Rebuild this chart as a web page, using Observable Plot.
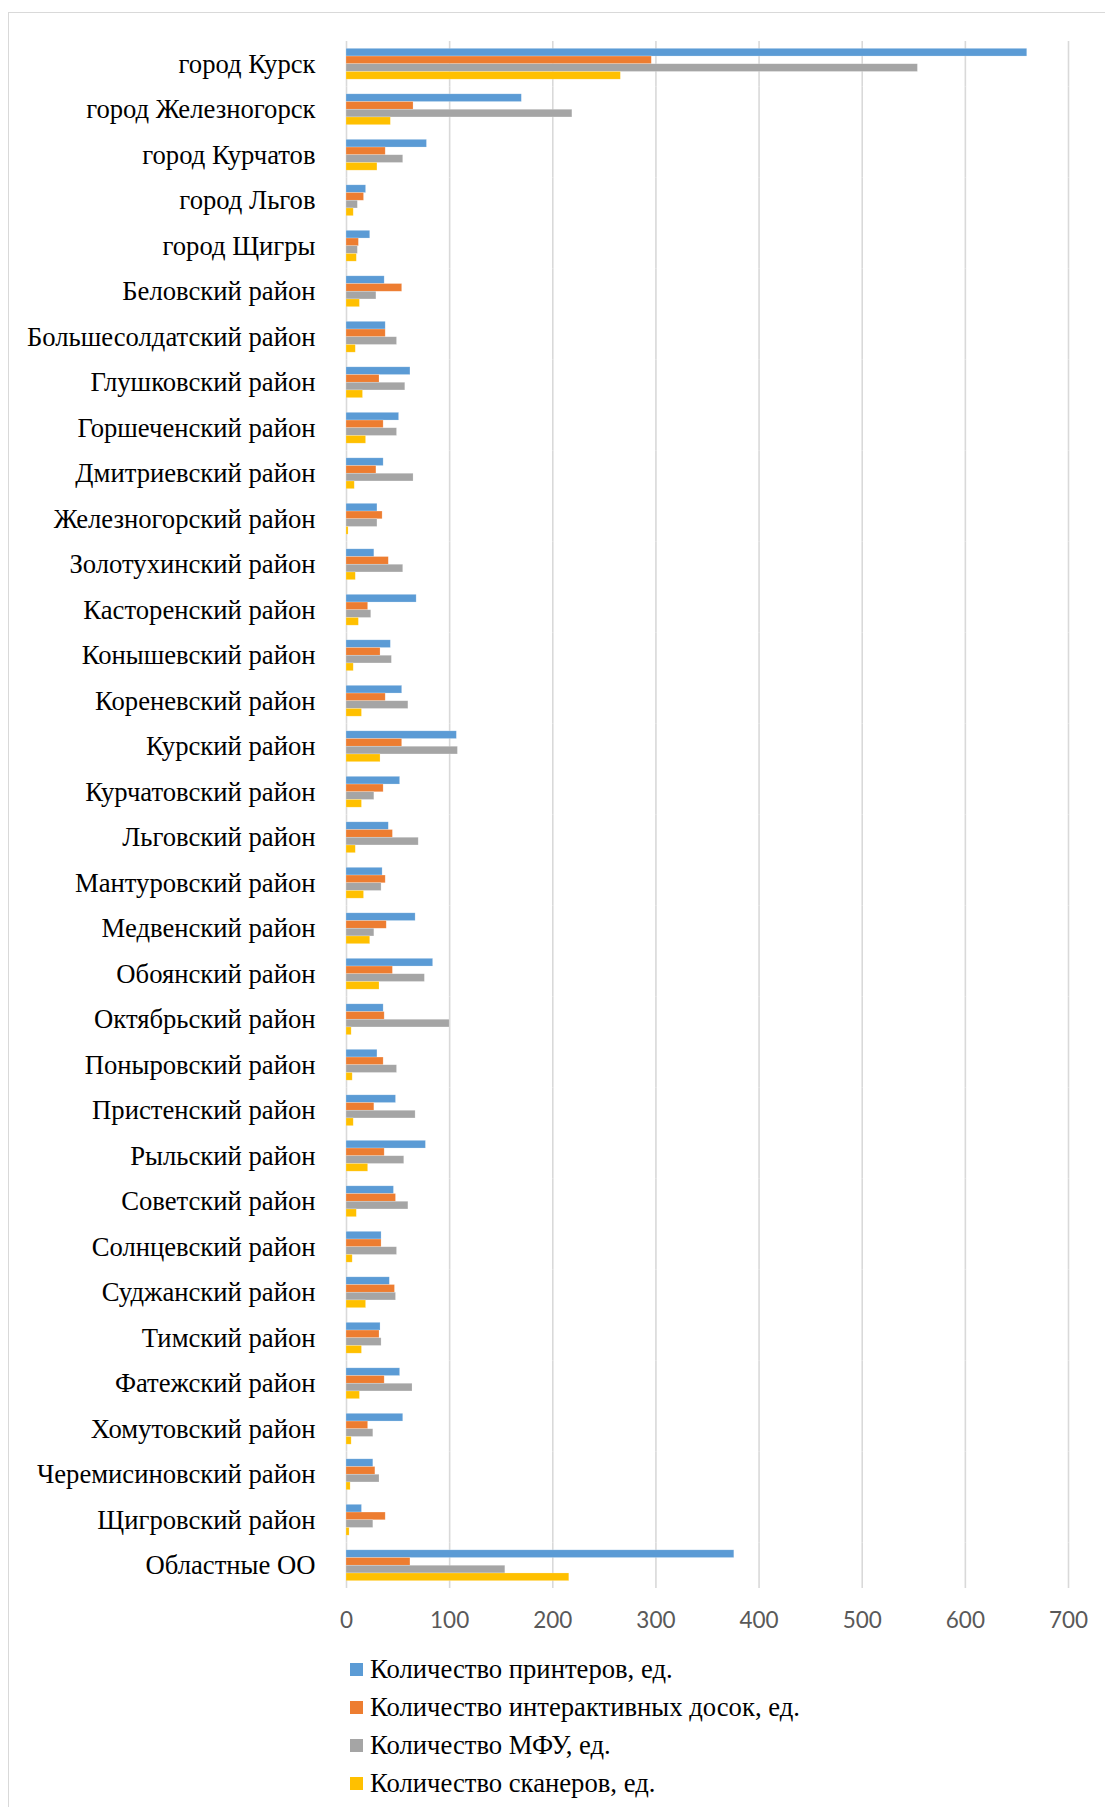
<!DOCTYPE html>
<html>
<head>
<meta charset="utf-8">
<script src="https://cdn.jsdelivr.net/npm/d3@7"></script>
<script src="https://cdn.jsdelivr.net/npm/@observablehq/plot@0.6"></script>
<style>
  html, body { margin: 0; padding: 0; background: #fff; overflow: hidden; }
  body { position: relative; width: 1105px; height: 1807px; }
  .frame { position: absolute; left: 8px; top: 12px; width: 1200px; height: 1900px;
           border-left: 1.5px solid #d9d9d9; border-top: 1.5px solid #d9d9d9; }
  #chart { position: absolute; left: 0; top: 0; }
  #chart svg { display: block; }
  #chart g[aria-label^="fy-axis"] text { font-family: "Liberation Serif", "Times New Roman", serif; font-size: 26.67px; fill: #000; }
  #chart g[aria-label^="x-axis"] text { font-family: Lato, "Open Sans", sans-serif; font-size: 22.5px; fill: #595959; }
  .legend { position: absolute; left: 350px; top: 1650px; font-family: "Liberation Serif", "Times New Roman", serif; font-size: 26.67px; color: #000; }
  .legend .item { height: 38px; line-height: 38px; display: flex; align-items: center; white-space: nowrap; }
  .legend .sw { width: 13px; height: 13px; margin-right: 7px; flex: none; }
</style>
</head>
<body>
<div class="frame"></div>
<div id="chart"></div>
<div class="legend" id="legend"></div>
<script>
const categories = [
  "город Курск", "город Железногорск", "город Курчатов", "город Льгов", "город Щигры",
  "Беловский район", "Большесолдатский район", "Глушковский район", "Горшеченский район",
  "Дмитриевский район", "Железногорский район", "Золотухинский район", "Касторенский район",
  "Конышевский район", "Кореневский район", "Курский район", "Курчатовский район",
  "Льговский район", "Мантуровский район", "Медвенский район", "Обоянский район",
  "Октябрьский район", "Поныровский район", "Пристенский район", "Рыльский район",
  "Советский район", "Солнцевский район", "Суджанский район", "Тимский район",
  "Фатежский район", "Хомутовский район", "Черемисиновский район", "Щигровский район",
  "Областные ОО"
];
const seriesNames = [
  "Количество принтеров, ед.",
  "Количество интерактивных досок, ед.",
  "Количество МФУ, ед.",
  "Количество сканеров, ед."
];
const seriesColors = ["#5B9BD5", "#ED7D31", "#A5A5A5", "#FFC000"];
const printers = [660, 170, 78, 19, 23, 37, 38, 62, 51, 36, 30, 27, 68, 43, 54, 107, 52, 41, 35, 67, 84, 36, 30, 48, 77, 46, 34, 42, 33, 52, 55, 26, 15, 376];
const boards   = [296, 65, 38, 17, 12, 54, 38, 32, 36, 29, 35, 41, 21, 33, 38, 54, 36, 45, 38, 39, 45, 37, 36, 27, 37, 48, 34, 47, 32, 37, 21, 28, 38, 62];
const mfu      = [554, 219, 55, 11, 11, 29, 49, 57, 49, 65, 30, 55, 24, 44, 60, 108, 27, 70, 34, 27, 76, 100, 49, 67, 56, 60, 49, 48, 34, 64, 26, 32, 26, 154];
const scanners = [266, 43, 30, 7, 10, 13, 9, 16, 19, 8, 2, 9, 12, 7, 15, 33, 15, 9, 17, 23, 32, 5, 6, 7, 21, 10, 6, 19, 15, 13, 5, 4, 3, 216];
const xTicks = [0, 100, 200, 300, 400, 500, 600, 700];

const seriesValues = [printers, boards, mfu, scanners];
const rows = [];
categories.forEach((c, i) => {
  seriesNames.forEach((s, j) => rows.push({category: c, series: s, value: seriesValues[j][i]}));
});

const chart = Plot.plot({
  width: 1105,
  height: 1645,
  marginTop: 41,
  marginBottom: 57,
  marginLeft: 346,
  marginRight: 37,
  facet: {data: rows, y: "category"},
  fy: {domain: categories, padding: 0, round: false, label: null, axis: "left", tickSize: 0, tickPadding: 31},
  y: {domain: seriesNames, paddingInner: 0, paddingOuter: 0.95, round: false, axis: null},
  x: {domain: [0, 700], ticks: xTicks, tickSize: 0, tickPadding: 24, label: null, tickFormat: d => String(d)},
  color: {domain: seriesNames, range: seriesColors},
  marks: [
    Plot.ruleX(xTicks, {stroke: "#d9d9d9", strokeWidth: 1.6}),
    Plot.barX(rows, {x: "value", y: "series", fill: "series", stroke: "white", strokeOpacity: 0.35, strokeWidth: 0.6})
  ]
});
document.getElementById("chart").appendChild(chart);

const legend = document.getElementById("legend");
seriesNames.forEach((s, i) => {
  const item = document.createElement("div");
  item.className = "item";
  const sw = document.createElement("span");
  sw.className = "sw";
  sw.style.background = seriesColors[i];
  const t = document.createElement("span");
  t.textContent = s;
  item.appendChild(sw);
  item.appendChild(t);
  legend.appendChild(item);
});
</script>
</body>
</html>
